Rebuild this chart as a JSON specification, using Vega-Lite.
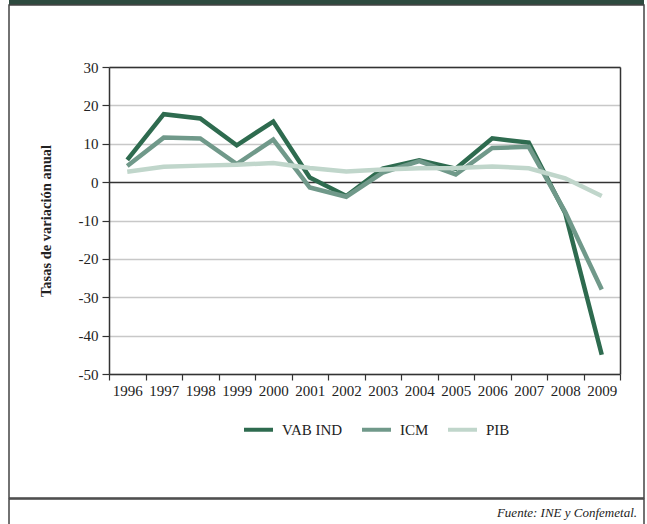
{
  "$schema": "https://vega.github.io/schema/vega-lite/v6.json",
  "background": "white",
  "padding": {"left": 8, "top": 0, "right": 0, "bottom": 0},
  "spacing": -1.5,
  "config": {"font": "Liberation Serif", "text": {"font": "Liberation Serif"}},
  "vconcat": [
    {
      "width": 635,
      "height": 5,
      "view": {"stroke": null},
      "data": {"values": [{"banda": 1}]},
      "mark": {"type": "rect", "color": "#2d4a3f"},
      "encoding": {}
    },
    {
      "width": 635,
      "height": 493,
      "view": {"stroke": "#444444", "strokeWidth": 1.5},
      "data": {
        "values": [
          {"year": "1996", "serie": "VAB IND", "valor": 5.8},
          {"year": "1997", "serie": "VAB IND", "valor": 17.7},
          {"year": "1998", "serie": "VAB IND", "valor": 16.6},
          {"year": "1999", "serie": "VAB IND", "valor": 9.6},
          {"year": "2000", "serie": "VAB IND", "valor": 15.8},
          {"year": "2001", "serie": "VAB IND", "valor": 1.2},
          {"year": "2002", "serie": "VAB IND", "valor": -3.6},
          {"year": "2003", "serie": "VAB IND", "valor": 3.5},
          {"year": "2004", "serie": "VAB IND", "valor": 5.7},
          {"year": "2005", "serie": "VAB IND", "valor": 3.5},
          {"year": "2006", "serie": "VAB IND", "valor": 11.4},
          {"year": "2007", "serie": "VAB IND", "valor": 10.3},
          {"year": "2008", "serie": "VAB IND", "valor": -8.1},
          {"year": "2009", "serie": "VAB IND", "valor": -45.0},
          {"year": "1996", "serie": "ICM", "valor": 4.2},
          {"year": "1997", "serie": "ICM", "valor": 11.6},
          {"year": "1998", "serie": "ICM", "valor": 11.4},
          {"year": "1999", "serie": "ICM", "valor": 4.7},
          {"year": "2000", "serie": "ICM", "valor": 11.1},
          {"year": "2001", "serie": "ICM", "valor": -1.4},
          {"year": "2002", "serie": "ICM", "valor": -3.8},
          {"year": "2003", "serie": "ICM", "valor": 2.5},
          {"year": "2004", "serie": "ICM", "valor": 5.5},
          {"year": "2005", "serie": "ICM", "valor": 2.0},
          {"year": "2006", "serie": "ICM", "valor": 8.9},
          {"year": "2007", "serie": "ICM", "valor": 9.2},
          {"year": "2008", "serie": "ICM", "valor": -7.8},
          {"year": "2009", "serie": "ICM", "valor": -28.0},
          {"year": "1996", "serie": "PIB", "valor": 2.7},
          {"year": "1997", "serie": "PIB", "valor": 4.0},
          {"year": "1998", "serie": "PIB", "valor": 4.3},
          {"year": "1999", "serie": "PIB", "valor": 4.5},
          {"year": "2000", "serie": "PIB", "valor": 5.0},
          {"year": "2001", "serie": "PIB", "valor": 3.7},
          {"year": "2002", "serie": "PIB", "valor": 2.8},
          {"year": "2003", "serie": "PIB", "valor": 3.3},
          {"year": "2004", "serie": "PIB", "valor": 3.6},
          {"year": "2005", "serie": "PIB", "valor": 3.7},
          {"year": "2006", "serie": "PIB", "valor": 4.1},
          {"year": "2007", "serie": "PIB", "valor": 3.6},
          {"year": "2008", "serie": "PIB", "valor": 1.0},
          {"year": "2009", "serie": "PIB", "valor": -3.6}
        ]
      },
      "resolve": {"axis": {"x": "independent", "y": "independent"}},
      "layer": [
        {
          "mark": {"type": "line", "strokeWidth": 4.5, "strokeJoin": "miter"},
          "encoding": {
            "x": {
              "field": "year",
              "type": "ordinal",
              "bandPosition": 0.5,
              "scale": {"type": "band", "range": [100, 611], "paddingInner": 0, "paddingOuter": 0},
              "axis": {
                "orient": "bottom",
                "offset": -124,
                "title": null,
                "labelAngle": 0,
                "tickBand": "extent",
                "tickSize": 6,
                "tickColor": "#333333",
                "tickWidth": 1.2,
                "labelPadding": 3,
                "labelFont": "Liberation Serif",
                "labelFontSize": 15,
                "labelColor": "#222222",
                "domainColor": "#333333",
                "domainWidth": 1.5,
                "grid": false
              }
            },
            "y": {
              "field": "valor",
              "type": "quantitative",
              "scale": {"domain": [-50, 30], "range": [369, 62], "nice": false, "zero": false},
              "axis": {
                "orient": "left",
                "offset": -100,
                "values": [-50, -40, -30, -20, -10, 0, 10, 20, 30],
                "labelExpr": "datum.value + ''",
                "title": "Tasas de variación anual",
                "titleFont": "Liberation Serif",
                "titleFontSize": 14.5,
                "titleFontWeight": "bold",
                "titleColor": "#222222",
                "titlePadding": 25,
                "labelFont": "Liberation Serif",
                "labelFontSize": 15,
                "labelColor": "#222222",
                "labelPadding": 4,
                "tickSize": 7,
                "tickColor": "#333333",
                "tickWidth": 1.2,
                "domainColor": "#333333",
                "domainWidth": 1.5,
                "grid": true,
                "gridColor": {"condition": {"test": "datum.value === 0", "value": "#333333"}, "value": "#c8c8c8"},
                "gridWidth": 1.5
              }
            },
            "color": {
              "field": "serie",
              "type": "nominal",
              "sort": ["VAB IND", "ICM", "PIB"],
              "scale": {"domain": ["VAB IND", "ICM", "PIB"], "range": ["#2e6b4f", "#70998a", "#c0d6cb"]},
              "legend": {
                "orient": "none",
                "legendX": 233,
                "legendY": 413,
                "direction": "horizontal",
                "title": null,
                "symbolType": "stroke",
                "symbolSize": 841,
                "symbolStrokeWidth": 4,
                "labelFont": "Liberation Serif",
                "labelFontSize": 15,
                "labelColor": "#222222",
                "labelOffset": 7,
                "columnPadding": 11
              }
            }
          }
        },
        {
          "mark": {"type": "point", "opacity": 0},
          "encoding": {
            "x": {
              "field": "year",
              "type": "ordinal",
              "axis": {
                "orient": "top",
                "offset": -62,
                "title": null,
                "labels": false,
                "ticks": false,
                "grid": false,
                "domainColor": "#333333",
                "domainWidth": 1.5
              }
            },
            "y": {
              "field": "valor",
              "type": "quantitative",
              "axis": {
                "orient": "right",
                "offset": -24,
                "title": null,
                "labels": false,
                "ticks": false,
                "grid": false,
                "domainColor": "#333333",
                "domainWidth": 1.5
              }
            }
          }
        }
      ]
    },
    {
      "width": 635,
      "height": 26,
      "view": {"stroke": "#444444", "strokeWidth": 1.5},
      "data": {"values": [{"fuente": "Fuente: INE y Confemetal."}]},
      "mark": {
        "type": "text",
        "align": "right",
        "baseline": "middle",
        "font": "Liberation Serif",
        "fontSize": 13,
        "fontStyle": "italic",
        "color": "#222222",
        "dx": -7,
        "dy": 1
      },
      "encoding": {
        "text": {"field": "fuente", "type": "nominal"},
        "x": {"datum": 1, "type": "quantitative", "scale": {"domain": [0, 1]}, "axis": null}
      }
    }
  ]
}
